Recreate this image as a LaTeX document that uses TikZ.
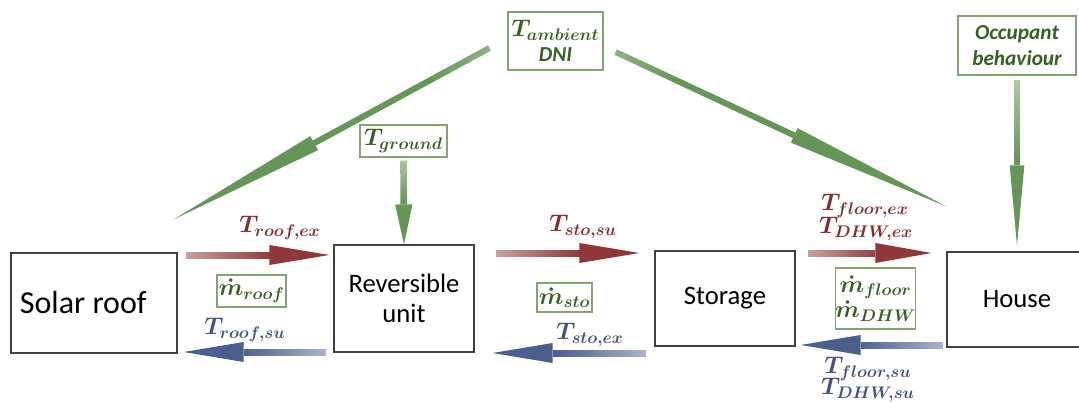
\documentclass[tikz,border=0pt]{standalone}
\usepackage{fix-cm}
\usepackage{amsmath}
\usepackage{fontspec}
\newfontfamily\calibri{Carlito}
\usetikzlibrary{arrows.meta,calc,fadings}
\definecolor{arred}{RGB}{145,55,55}
\definecolor{arblue}{RGB}{75,95,140}
\definecolor{argreen}{RGB}{100,150,85}
\definecolor{tred}{RGB}{128,45,45}
\definecolor{tblue}{RGB}{65,82,128}
\definecolor{tgreen}{RGB}{55,95,35}
\definecolor{gbord}{RGB}{130,165,110}
\pgfdeclarehorizontalshading{shL}{100bp}{color(0bp)=(black); color(55bp)=(white); color(100bp)=(white)}
\pgfdeclarefading{fadeL}{\pgfuseshading{shL}}
\pgfdeclarehorizontalshading{shR}{100bp}{color(0bp)=(white); color(45bp)=(white); color(100bp)=(black)}
\pgfdeclarefading{fadeR}{\pgfuseshading{shR}}
\pgfdeclarehorizontalshading{shLd}{100bp}{color(0bp)=(black); color(35bp)=(white); color(100bp)=(white)}
\pgfdeclarefading{fadeLd}{\pgfuseshading{shLd}}
\pgfdeclarehorizontalshading{shRd}{100bp}{color(0bp)=(white); color(65bp)=(white); color(100bp)=(black)}
\pgfdeclarefading{fadeRd}{\pgfuseshading{shRd}}
\pgfdeclareverticalshading{shT}{100bp}{color(0bp)=(white); color(50bp)=(white); color(100bp)=(black)}
\pgfdeclarefading{fadeT}{\pgfuseshading{shT}}
% #1 colour, #2 fading, #3 shaft width, #4 head length, #5 head half width, #6 from, #7 to
\newcommand\fadearrow[7]{%
  \draw[draw=#1, line width=#3, path fading=#2, shorten >=#4] (#6) -- (#7);
  \coordinate (hb) at ($(#7)!#4!(#6)$);
  \fill[#1] (#7) -- ($(hb)!#5!90:(#7)$) -- ($(hb)!#5!-90:(#7)$) -- cycle;
}
\begin{document}
\begin{tikzpicture}[x=0.75pt,y=-0.75pt,
  blk/.style={draw=black!75, line width=0.8pt, rectangle, inner sep=0pt, align=center,
    font=\calibri\fontsize{20}{23}\selectfont},
  gbox/.style={draw=gbord, line width=0.8pt, rectangle, inner sep=0pt, text=tgreen, align=center},
  mth/.style={font=\fontsize{18}{19}\selectfont\boldmath, inner sep=0pt},
  gsans/.style={font=\calibri\bfseries\itshape\fontsize{16}{20}\selectfont},
]
\useasboundingbox (0,0) rectangle (1079,403);

% main boxes
\node[blk, minimum width=124.5pt, minimum height=75pt, font=\calibri\fontsize{24}{28}\selectfont] (solar) at (94,303) {\kern-16pt Solar roof};
\node[blk, minimum width=105pt, minimum height=80.25pt] (rev) at (404,298.5) {Reversible\\unit};
\node[blk, minimum width=105pt, minimum height=71.25pt] (sto) at (725,298.5) {Storage};
\node[blk, minimum width=105pt, minimum height=71.25pt] (house) at (1017,299.5) {House};

% green input boxes
\node[gbox, minimum width=71.25pt, minimum height=43.5pt, mth] (amb) at (555.5,41)
  {$T_{ambient}$\\[0pt]{\calibri\bfseries\itshape\fontsize{16}{19}\selectfont DNI}};
\node[gbox, minimum width=65.25pt, minimum height=24pt, mth] (tg) at (403.5,141) {$T_{ground}$};
\node[gbox, minimum width=88.5pt, minimum height=44.25pt, gsans] (occ) at (1017,45.5) {Occupant\\behaviour};
\node[gbox, minimum width=51.75pt, minimum height=24pt, mth] (mroof) at (251.5,291) {$\dot m_{roof}$};
\node[gbox, minimum width=41.25pt, minimum height=21.75pt, mth] (msto) at (564.5,297.5) {$\dot m_{sto}$};
\node[gbox, minimum width=56.25pt, minimum height=45.75pt, mth] (mfl) at (875.5,298.5)
  {$\dot m_{floor}$\\[0pt]$\dot m_{DHW}$};

% connector end points
\coordinate (r1s) at ($(solar.east)+(8,-48)$);
\coordinate (r1e) at ($(rev.west)+(-4,-43.5)$);
\coordinate (b1s) at ($(rev.west)+(-8,53.5)$);
\coordinate (b1e) at ($(solar.east)+(6,49)$);
\coordinate (r2s) at ($(rev.east)+(21,-45.5)$);
\coordinate (r2e) at ($(sto.west)+(-15,-45.5)$);
\coordinate (b2s) at ($(sto.west)+(-8,54.5)$);
\coordinate (b2e) at ($(rev.east)+(18,54.5)$);
\coordinate (r3s) at ($(sto.east)+(12,-45.5)$);
\coordinate (r3e) at ($(house.west)+(-15,-46.5)$);
\coordinate (b3s) at ($(house.west)+(-4,45.5)$);
\coordinate (b3e) at ($(sto.east)+(5,46.5)$);
\coordinate (d1s) at ($(amb.west)+(-18,7)$);
\coordinate (d1e) at ($(solar.north east)+(-4,-33)$);
\coordinate (d2s) at ($(amb.east)+(12,11)$);
\coordinate (d2e) at ($(house.north west)+(0,-45)$);
\coordinate (v1s) at ($(tg.south)+(0,3)$);
\coordinate (v2s) at ($(occ.south)+(0,4)$);
\coordinate (v2e) at ($(house.north)+(0,-6)$);

% horizontal arrows
\fadearrow{arred}{fadeL}{5.25pt}{45pt}{7.5pt}{r1s}{r1e}
\fadearrow{arblue}{fadeR}{5.25pt}{45pt}{7.5pt}{b1s}{b1e}
\fadearrow{arred}{fadeL}{5.25pt}{45pt}{7.5pt}{r2s}{r2e}
\fadearrow{arblue}{fadeR}{5.25pt}{45pt}{7.5pt}{b2s}{b2e}
\fadearrow{arred}{fadeL}{5.25pt}{42pt}{7.5pt}{r3s}{r3e}
\fadearrow{arblue}{fadeR}{5.25pt}{45pt}{7.5pt}{b3s}{b3e}

% green arrows
\fadearrow{argreen}{fadeRd}{4.5pt}{120pt}{6pt}{d1s}{d1e}
\fadearrow{argreen}{fadeLd}{4.5pt}{126pt}{6pt}{d2s}{d2e}
\fadearrow{argreen}{fadeT}{5pt}{30pt}{6.5pt}{v1s}{rev.north}
\fadearrow{argreen}{fadeT}{5pt}{60pt}{5.5pt}{v2s}{v2e}

% labels
\node[mth, text=tred] (l1) at (280,228) {$T_{roof,ex}$};
\node[mth, text=tblue] (l2) at (245,330) {$T_{roof,su}$};
\node[mth, text=tred] (l3) at (583,227) {$T_{sto,su}$};
\node[mth, text=tblue] (l4) at (590,335) {$T_{sto,ex}$};
\node[mth, text=tred] (l5) at (865,206) {$T_{floor,ex}$};
\node[mth, text=tred] (l6) at (866,229) {$T_{DHW,ex}$};
\node[mth, text=tblue] (l7) at (868,369) {$T_{floor,su}$};
\node[mth, text=tblue] (l8) at (868,390) {$T_{DHW,su}$};
\end{tikzpicture}
\end{document}
